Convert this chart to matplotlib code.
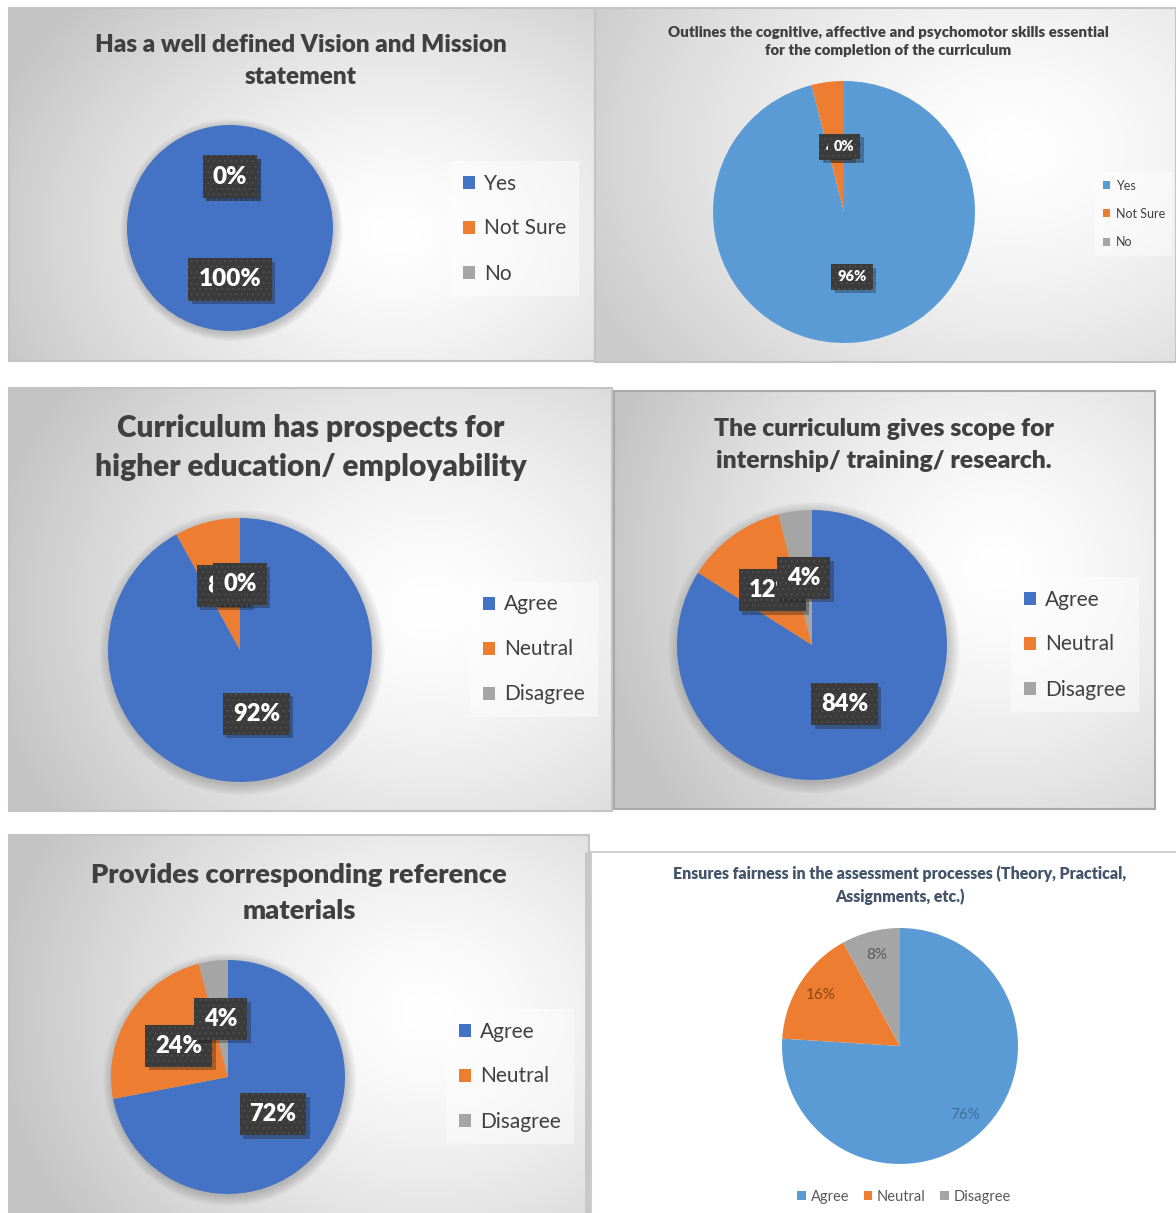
import numpy as np
import matplotlib
matplotlib.use('Agg')
import matplotlib.pyplot as plt
import matplotlib.patheffects as pe
from matplotlib.patches import Circle, Rectangle

plt.rcParams['font.family'] = ['Lato', 'DejaVu Sans']
plt.rcParams['hatch.linewidth'] = 0.4

# ---------------- data ----------------
title1 = "Has a well defined Vision and Mission\nstatement"
cats1 = ["Yes", "Not Sure", "No"]
vals1 = [100, 0, 0]

title2 = "Outlines the cognitive, affective and psychomotor skills essential\nfor the completion of the curriculum"
cats2 = ["Yes", "Not Sure", "No"]
vals2 = [96, 4, 0]

title3 = "Curriculum has prospects for\nhigher education/ employability"
cats3 = ["Agree", "Neutral", "Disagree"]
vals3 = [92, 8, 0]

title4 = "The curriculum gives scope for\ninternship/ training/ research."
cats4 = ["Agree", "Neutral", "Disagree"]
vals4 = [84, 12, 4]

title5 = "Provides corresponding reference\nmaterials"
cats5 = ["Agree", "Neutral", "Disagree"]
vals5 = [72, 24, 4]

title6 = "Ensures fairness in the assessment processes (Theory, Practical,\nAssignments, etc.)"
cats6 = ["Agree", "Neutral", "Disagree"]
vals6 = [76, 16, 8]

# ---------------- layout helpers ----------------
W, H = 1176, 1213
fig = plt.figure(figsize=(W / 100, H / 100), dpi=100, facecolor='white')

DARK = ['#4472C4', '#ED7D31', '#A5A5A5']
LIGHT = ['#5B9BD5', '#ED7D31', '#A5A5A5']
TW = 'heavy'


def frac(x, y, w, h):
    return [x / W, 1 - (y + h) / H, w / W, h / H]


def background(rect, gc, R, outer=0.77, border='#c4c4c4', grad=True):
    x, y, w, h = rect
    ax = fig.add_axes(frac(x, y, w, h), zorder=0)
    ax.set_axis_off()
    if grad:
        xs = np.linspace(0, 1, 300)
        ys = np.linspace(0, 1, 300)
        X, Y = np.meshgrid(xs, ys)
        d = np.sqrt(((X - gc[0]) / R[0]) ** 2 + ((Y - gc[1]) / R[1]) ** 2)
        v = 1 - (1 - outer) * np.clip(d, 0, 1) ** 1.4
        img = np.dstack([v, v, v])
        ax.imshow(img, extent=[0, 1, 0, 1], origin='upper', aspect='auto')
    ax.set_xlim(0, 1)
    ax.set_ylim(0, 1)
    ax.add_patch(Rectangle((0, 0), 1, 1, fill=False, ec=border, lw=1.5,
                           transform=ax.transAxes, clip_on=False))
    return ax


def title(x, y, text, fs, color='#404040', ls=1.52):
    fig.text(x / W, 1 - y / H, text, ha='center', va='center', fontsize=fs,
             fontweight=TW, color=color, linespacing=ls, zorder=5)


def draw_pie(cx, cy, r, vals, colors, pct=0.5, shadow=True):
    pad = 1.12
    ax = fig.add_axes(frac(cx - r * pad, cy - r * pad, 2 * r * pad, 2 * r * pad), zorder=2)
    ax.patch.set_alpha(0)
    if shadow:
        for k in range(10):
            ax.add_patch(Circle((0.015, -0.02), 1 + 0.009 * k, color='k', alpha=0.02, lw=0, zorder=0))
    wedges, texts, autos = ax.pie(vals, colors=colors, startangle=90, counterclock=False,
                                  autopct='%.0f%%', pctdistance=pct,
                                  wedgeprops=dict(linewidth=0))
    for w in wedges:
        w.set_zorder(1)
    ax.set_xlim(-pad, pad)
    ax.set_ylim(-pad, pad)
    ax.set_aspect('equal')
    return ax, wedges, autos


def box_labels(autos, fs):
    for t in autos:
        t.set_color('white')
        t.set_fontweight('heavy')
        t.set_fontsize(fs)
        t.set_zorder(4)
        t.set_bbox(dict(boxstyle='square,pad=0.42', fc='#3b3b3b', ec='#575757', lw=0, hatch='...'))
        t.get_bbox_patch().set_path_effects(
            [pe.SimplePatchShadow(offset=(2.5, -2.5), alpha=0.3), pe.Normal()])


def legend(ax, wedges, cats, x, y, fs, labelspacing=1.2, borderpad=0.6, hl=0.6):
    leg = ax.legend(wedges, cats, loc='upper left', bbox_to_anchor=(x / W, 1 - y / H),
                    bbox_transform=fig.transFigure, fontsize=fs, frameon=True, fancybox=False,
                    facecolor='white', framealpha=0.45, edgecolor='none',
                    handlelength=hl, handleheight=hl, handletextpad=0.45,
                    labelspacing=labelspacing, borderpad=borderpad, borderaxespad=0)
    for t in leg.get_texts():
        t.set_color('#404040')
    return leg


# ---------------- panel 1 ----------------
background((9, 8, 586, 353), (0.66, 0.64), (0.75, 0.95))
title(301, 61, title1, 17.5)
ax, w, a = draw_pie(230, 228, 103, vals1, DARK)
box_labels(a, 17.5)
legend(ax, w, cats1, 450, 161, 15)

# ---------------- panel 2 ----------------
background((595, 8, 581, 354), (0.72, 0.4), (0.8, 1.0), outer=0.8)
title(888, 41.5, title2, 10.8, ls=1.4)
ax, w, a = draw_pie(844, 212, 131, vals2, LIGHT, shadow=False)
box_labels(a, 10.5)
legend(ax, w, cats2, 1095, 172, 9, labelspacing=1.3)

# ---------------- panel 3 ----------------
background((9, 388, 603, 423), (0.70, 0.52), (0.75, 0.9))
title(311, 447.5, title3, 21.5, ls=1.45)
ax, w, a = draw_pie(240, 650, 132, vals3, DARK)
box_labels(a, 17)
legend(ax, w, cats3, 470, 582, 15)

# ---------------- panel 4 ----------------
background((614, 391, 541, 418), (0.71, 0.42), (0.75, 0.95), border='#a8a8a8')
title(884, 445, title4, 17.8)
ax, w, a = draw_pie(812, 645, 135, vals4, DARK)
box_labels(a, 17)
legend(ax, w, cats4, 1011, 577, 15)

# ---------------- panel 5 ----------------
background((9, 835, 580, 385), (0.72, 0.46), (0.75, 0.95))
title(299, 893, title5, 19.6, ls=1.6)
ax, w, a = draw_pie(228, 1077, 117, vals5, DARK)
box_labels(a, 17)
legend(ax, w, cats5, 446, 1009, 15)

# ---------------- panel 6 ----------------
background((591, 852, 600, 380), None, None, grad=False, border='#cfcfcf')
fig.add_artist(Rectangle((585 / W, 0), 6 / W, 1 - 852 / H, transform=fig.transFigure,
                         fc='#c8c8c8', ec='none', zorder=1))
title(900, 885.5, title6, 11.4, color='#44546A', ls=1.45)
ax, w, a = draw_pie(900, 1046, 118, vals6, LIGHT, pct=0.8, shadow=False)
lab_cols = ['#3f6f9f', '#8a4515', '#595959']
for t, c in zip(a, lab_cols):
    t.set_color(c)
    t.set_fontsize(11)
leg6 = ax.legend(w, cats6, loc='center', bbox_to_anchor=(904 / W, 1 - 1197 / H),
                 bbox_transform=fig.transFigure, ncol=3, frameon=False, fontsize=10.5,
                 handlelength=0.6, handleheight=0.6, handletextpad=0.3, columnspacing=1.0)
for t in leg6.get_texts():
    t.set_color('#595959')

fig.savefig('out.png', dpi=100, facecolor='white')
